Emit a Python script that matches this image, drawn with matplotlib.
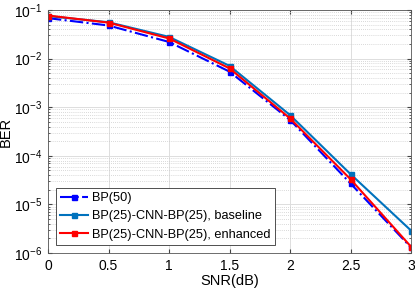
import matplotlib
matplotlib.use("Agg")
import matplotlib.pyplot as plt

# ── Data ──────────────────────────────────────────────────────────────────────
snr = [0, 0.5, 1, 1.5, 2, 2.5, 3]
ber_bp50     = [0.068, 0.048, 0.022, 0.0054, 5.5e-4, 2.7e-5, 1.3e-6]
ber_baseline = [0.075, 0.056, 0.028, 0.0071, 6.9e-4, 4.2e-5, 2.9e-6]
ber_enhanced = [0.077, 0.055, 0.026, 0.0063, 5.9e-4, 3.3e-5, 1.35e-6]
labels = ["BP(50)", "BP(25)-CNN-BP(25), baseline", "BP(25)-CNN-BP(25), enhanced"]
# ─────────────────────────────────────────────────────────────────────────────

plt.rcParams["font.family"] = ["Liberation Sans", "DejaVu Sans"]

fig = plt.figure(figsize=(4.15, 2.92), dpi=100)
ax = fig.add_axes([48 / 415, 1 - 253 / 292, 363 / 415, 243 / 292])

ax.semilogy(snr, ber_bp50, "-.", color="#0000FF", marker="s", ms=3.6, lw=1.5, label=labels[0])
ax.semilogy(snr, ber_baseline, "-", color="#0072BD", marker="s", ms=3.6, lw=1.5, label=labels[1])
ax.semilogy(snr, ber_enhanced, "-", color="#FF0000", marker="s", ms=3.6, lw=1.5, label=labels[2])

ax.set_xlim(0, 3)
ax.set_ylim(1e-6, 1e-1)
ax.set_xticks([0, 0.5, 1, 1.5, 2, 2.5, 3])
ax.set_xticklabels(["0", "0.5", "1", "1.5", "2", "2.5", "3"])

ax.grid(True, which="major", color="#DDDDDD", lw=0.7)
ax.grid(True, which="minor", color="#CCCCCC", lw=0.6, ls=(0, (1, 1.5)))
ax.tick_params(which="both", direction="in", top=True, right=True, labelsize=10,
               color="#444444", length=3, pad=4)
ax.tick_params(which="minor", length=1.5)
for s in ax.spines.values():
    s.set_color("#555555")
    s.set_linewidth(0.6)

ax.set_xlabel("SNR(dB)", fontsize=10.5, labelpad=1)
ax.set_ylabel("BER", fontsize=10.5, labelpad=1)

leg = ax.legend(loc="lower left", fontsize=9.2, fancybox=False, framealpha=1,
                edgecolor="#333333", handlelength=2.2, borderpad=0.35,
                labelspacing=0.5, handletextpad=0.3, borderaxespad=0.6)
leg.get_frame().set_linewidth(0.6)

fig.savefig("out.png", dpi=100)
